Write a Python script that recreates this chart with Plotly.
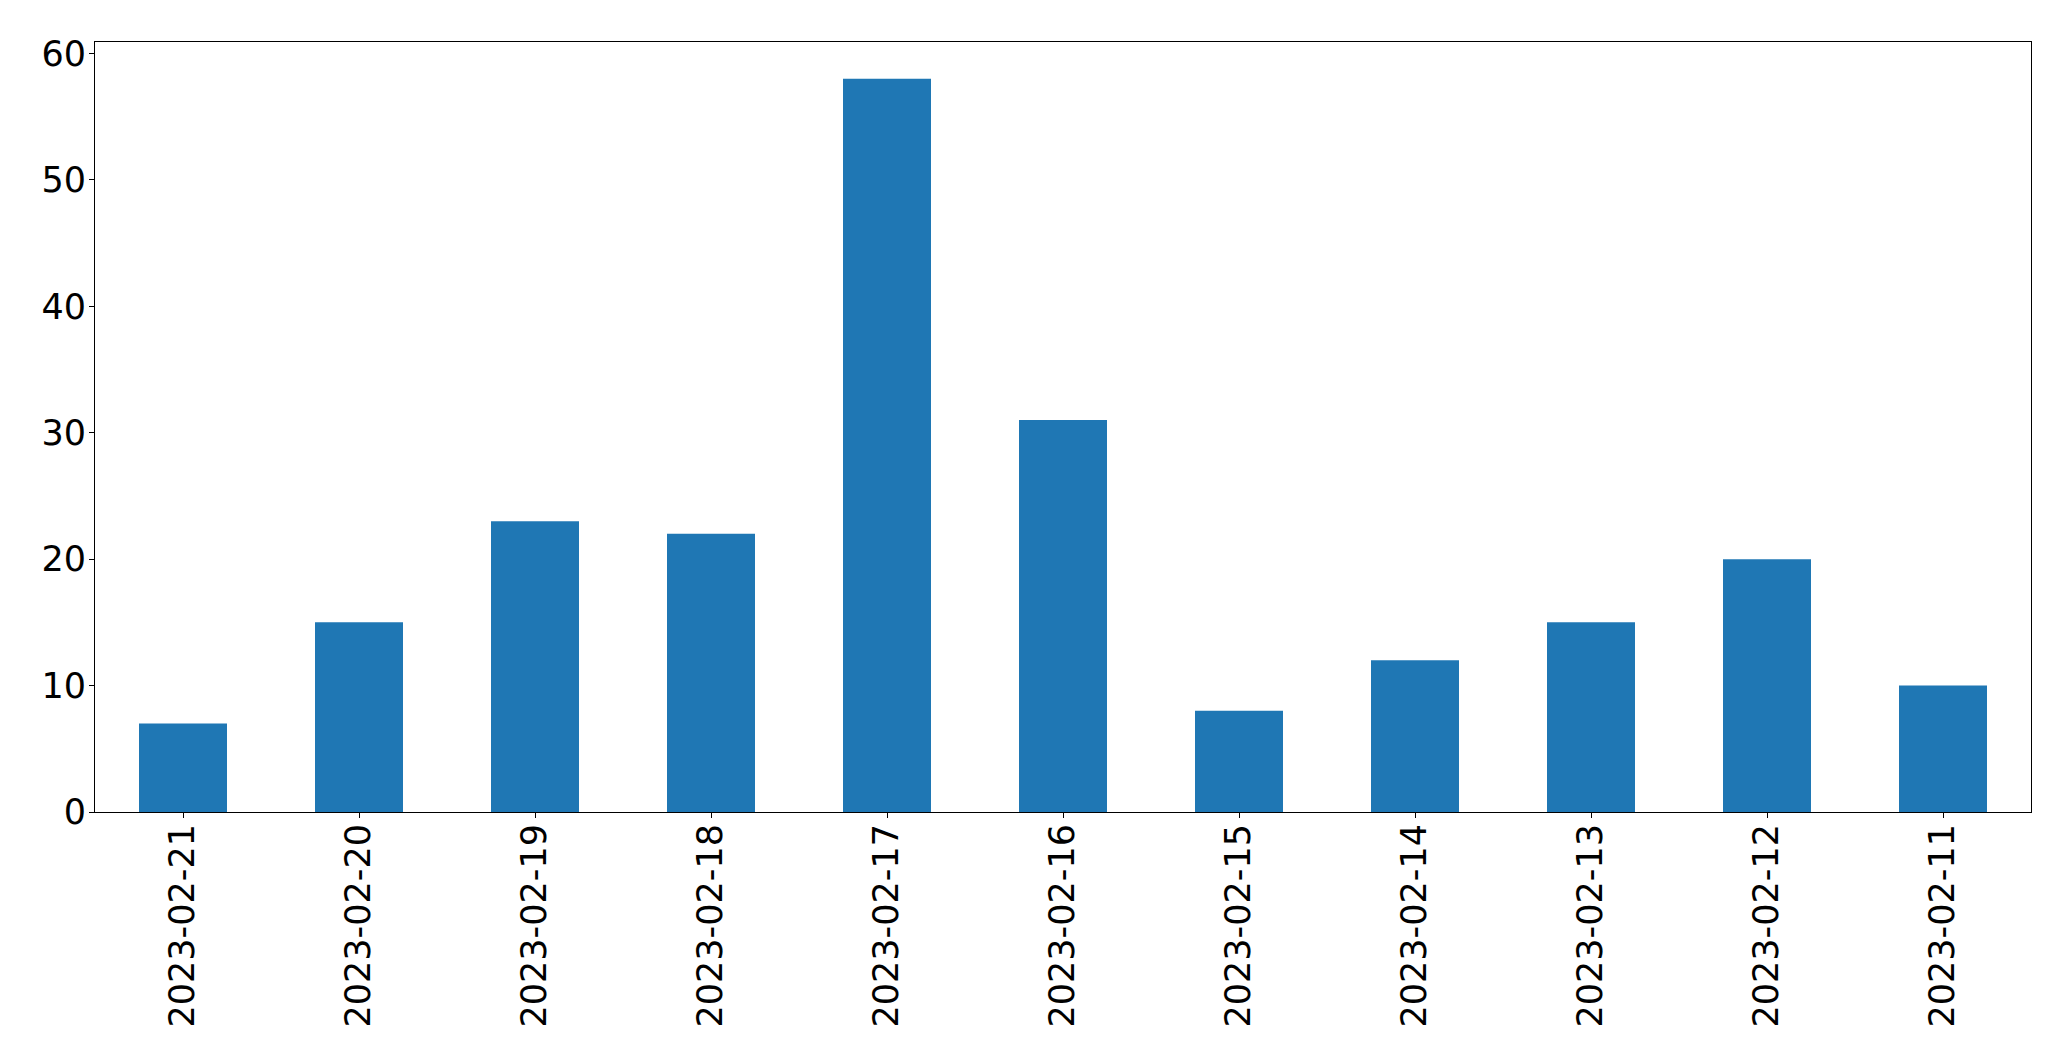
import plotly.graph_objects as go

dates = ["2023-02-21", "2023-02-20", "2023-02-19", "2023-02-18", "2023-02-17",
         "2023-02-16", "2023-02-15", "2023-02-14", "2023-02-13", "2023-02-12", "2023-02-11"]
counts = [7, 15, 23, 22, 58, 31, 8, 12, 15, 20, 10]
y_ticks = [0, 10, 20, 30, 40, 50, 60]

fig = go.Figure(go.Bar(
    x=list(range(len(dates))), y=counts, width=0.5,
    marker=dict(color="#1f77b4", line=dict(width=0)),
))

# page body has an 8px margin, compensate so the plot area lands at (94.5, 42)-(2031, 812)
font = dict(family="DejaVu Sans", size=35, color="black")
fig.update_layout(
    width=2071, height=1064,
    margin=dict(l=86.5, r=48, t=34, b=260, pad=0),
    plot_bgcolor="white", paper_bgcolor="white",
    showlegend=False, font=font,
)
fig.update_xaxes(
    range=[-0.5, len(dates) - 0.5], tickmode="array",
    tickvals=list(range(len(dates))), ticktext=dates, tickangle=-90,
    showline=True, linecolor="black", linewidth=1.1, mirror=True,
    ticks="outside", ticklen=5, tickwidth=1.1, tickcolor="black",
    showgrid=False, zeroline=False, tickfont=font, automargin=False,
    ticklabelstandoff=-8,
)
fig.update_yaxes(
    range=[0, 60.9], tickmode="array", tickvals=y_ticks,
    showline=True, linecolor="black", linewidth=1.1, mirror=True,
    ticks="outside", ticklen=5, tickwidth=1.1, tickcolor="black",
    showgrid=False, zeroline=False, tickfont=font, automargin=False,
    ticklabelstandoff=-4,
)
fig.write_html("out.html")
